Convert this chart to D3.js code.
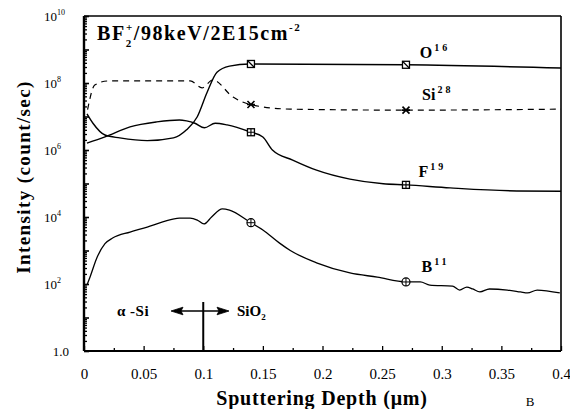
<!DOCTYPE html>
<html>
<head>
<meta charset="utf-8">
<script src="https://cdn.jsdelivr.net/npm/d3@7"></script>
<style>
  body { margin: 0; background: #fff; }
  svg text { font-family: "Liberation Serif", "Times New Roman", "DejaVu Serif", serif !important; fill: #000; }
  .bold { font-weight: bold; }
</style>
</head>
<body>
<div id="chart"></div>
<script>
// depth in um, intensity in counts/sec
var o16 = [
  [0.0025, 1.2e7], [0.0075, 6.3e6], [0.0176, 2.8e6], [0.030, 2.3e6], [0.053, 1.9e6],
  [0.075, 2.3e6], [0.086, 4.0e6], [0.095, 9.8e6], [0.103, 5.0e7], [0.1115, 2.1e8],
  [0.122, 3.2e8], [0.139, 3.7e8], [0.27, 3.5e8], [0.4, 2.8e8]
];
var si28 = [
  [0.003, 1.6e7], [0.009, 8.7e7], [0.02, 1.15e8], [0.06, 1.15e8], [0.089, 1.15e8],
  [0.099, 7.2e7], [0.108, 1.23e8], [0.125, 3.8e7], [0.139, 2.3e7], [0.173, 1.66e7],
  [0.27, 1.55e7], [0.4, 1.66e7]
];
var f19 = [
  [0.0025, 1.6e6], [0.0176, 2.45e6], [0.0386, 4.9e6], [0.061, 6.9e6], [0.080, 7.9e6],
  [0.086, 7.4e6], [0.093, 6.3e6], [0.101, 4.6e6], [0.110, 6.3e6], [0.12, 5.6e6],
  [0.139, 3.5e6], [0.150, 2.45e6], [0.158, 1.0e6], [0.175, 5.0e5], [0.195, 2.5e5],
  [0.223, 1.35e5], [0.251, 9.8e4], [0.27, 9.1e4], [0.307, 7.4e4], [0.363, 6.0e4],
  [0.4, 5.9e4]
];
var b11 = [
  [0.0025, 93], [0.005, 160], [0.011, 630], [0.0176, 1600], [0.024, 2350],
  [0.0386, 3550], [0.053, 5000], [0.066, 7100], [0.080, 9300], [0.089, 9300],
  [0.095, 8100], [0.1006, 6200], [0.107, 1.0e4], [0.116, 1.74e4], [0.122, 1.6e4],
  [0.139, 7100], [0.150, 4100], [0.164, 1660], [0.173, 1000], [0.195, 430],
  [0.223, 215], [0.246, 160], [0.27, 115], [0.282, 115], [0.29, 93], [0.309, 87],
  [0.315, 66], [0.321, 81], [0.326, 71], [0.332, 58], [0.34, 71], [0.355, 66],
  [0.366, 58], [0.372, 54], [0.38, 66], [0.399, 54]
];
var markerDepths = [0.14, 0.27];
var xMajorTicks = [0, 0.05, 0.1, 0.15, 0.2, 0.25, 0.3, 0.35, 0.4];
var xTickLabels = ["0", "0.05", "0.1", "0.15", "0.2", "0.25", "0.3", "0.35", "0.4"];
var yLabelDecades = [0, 2, 4, 6, 8, 10];
var interfaceDepth = 0.1;

var width = 570, height = 409;
var margin = { top: 16, right: 9, bottom: 58, left: 84 };

var svg = d3.select('#chart').append('svg')
  .attr('width', width)
  .attr('height', height);

var x = d3.scaleLinear().domain([0, 0.4]).range([margin.left, width - margin.right]);
var y = d3.scaleLog().domain([1, 1e10]).range([height - margin.bottom, margin.top]);

// interpolate along a series in log space to place the markers on the line
function valueAt(series, d) {
  for (var i = 1; i < series.length; i++) {
    if (series[i][0] >= d) {
      var a = series[i - 1], b = series[i];
      var t = (d - a[0]) / (b[0] - a[0]);
      return Math.pow(10, Math.log10(a[1]) + t * (Math.log10(b[1]) - Math.log10(a[1])));
    }
  }
  return series[series.length - 1][1];
}

var line = d3.line()
  .x(function (d) { return x(d[0]); })
  .y(function (d) { return y(d[1]); })
  .curve(d3.curveMonotoneX);

// frame
var x0 = x(0), x1 = x(0.4), yTop = y(1e10), yBot = y(1);
svg.append('line').attr('x1', x0).attr('x2', x1).attr('y1', yTop).attr('y2', yTop)
  .attr('stroke', '#000').attr('stroke-width', 1.3);
svg.append('line').attr('x1', x1).attr('x2', x1).attr('y1', yTop).attr('y2', yBot)
  .attr('stroke', '#000').attr('stroke-width', 1.6);

// bottom axis: minor and major ticks pointing in
svg.append('g')
  .attr('transform', 'translate(0,' + yBot + ')')
  .call(d3.axisBottom(x).tickValues(d3.range(0.025, 0.4, 0.05)).tickSize(-3).tickFormat(''))
  .call(function (g) { g.select('.domain').remove(); g.selectAll('line').attr('stroke-width', 1.3); });
var xAxis = svg.append('g')
  .attr('transform', 'translate(0,' + yBot + ')')
  .call(d3.axisBottom(x).tickValues(xMajorTicks).tickSize(-5).tickPadding(17)
    .tickFormat(function (d, i) { return xTickLabels[i]; }));
xAxis.select('.domain').attr('stroke-width', 2).attr('d', 'M' + x0 + ',0H' + x1);
xAxis.selectAll('text').attr('font-size', 15);
xAxis.selectAll('line').attr('stroke-width', 1.3);

// left axis: log minor ticks
var minor = [];
for (var e = 0; e < 10; e++) for (var m = 2; m <= 9; m++) minor.push(m * Math.pow(10, e));
svg.append('g')
  .attr('transform', 'translate(' + x0 + ',0)')
  .call(d3.axisLeft(y).tickValues(minor).tickSize(-3).tickFormat(''))
  .call(function (g) { g.select('.domain').remove(); g.selectAll('line').attr('stroke-width', 1.3); });
var yAxis = svg.append('g')
  .attr('transform', 'translate(' + x0 + ',0)')
  .call(d3.axisLeft(y).tickValues(d3.range(0, 11).map(function (k) { return Math.pow(10, k); }))
    .tickSize(-5).tickFormat(''));
yAxis.select('.domain').attr('stroke-width', 2.4).attr('d', 'M0,' + yTop + 'V' + yBot);
yAxis.selectAll('line').attr('stroke-width', 1.6);

// y tick labels
yLabelDecades.forEach(function (k) {
  var t = svg.append('text')
    .attr('y', y(Math.pow(10, k)) + 5)
    .attr('font-size', 13);
  if (k === 0) {
    t.attr('x', 69).attr('text-anchor', 'end').text('1.0');
  } else {
    t.attr('x', 44);
    t.append('tspan').text('10');
    t.append('tspan').attr('font-size', 8).attr('dy', -6).text(k);
  }
});

// curves
svg.append('path').datum(o16).attr('d', line)
  .attr('fill', 'none').attr('stroke', '#000').attr('stroke-width', 1.4);
svg.append('path').datum(f19).attr('d', line)
  .attr('fill', 'none').attr('stroke', '#000').attr('stroke-width', 1.4);
svg.append('path').datum(b11).attr('d', line)
  .attr('fill', 'none').attr('stroke', '#000').attr('stroke-width', 1.3);
svg.append('path').datum(si28).attr('d', line)
  .attr('fill', 'none').attr('stroke', '#000').attr('stroke-width', 1.2)
  .attr('stroke-dasharray', '6,5');

// markers
markerDepths.forEach(function (d) {
  var cx = x(d), s = 3.5, cy;
  cy = y(valueAt(o16, d));
  svg.append('rect').attr('x', cx - s).attr('y', cy - s).attr('width', 2 * s).attr('height', 2 * s)
    .attr('fill', '#fff').attr('stroke', '#000').attr('stroke-width', 1.3);
  svg.append('line').attr('x1', cx - s).attr('y1', cy - s).attr('x2', cx + s).attr('y2', cy + s)
    .attr('stroke', '#000').attr('stroke-width', 1.2);

  cy = y(valueAt(f19, d));
  svg.append('rect').attr('x', cx - s).attr('y', cy - s).attr('width', 2 * s).attr('height', 2 * s)
    .attr('fill', '#fff').attr('stroke', '#000').attr('stroke-width', 1.3);
  svg.append('path').attr('d', 'M' + (cx - s) + ',' + cy + 'H' + (cx + s) + 'M' + cx + ',' + (cy - s) + 'V' + (cy + s))
    .attr('stroke', '#000').attr('stroke-width', 1.1);

  cy = y(valueAt(b11, d));
  svg.append('circle').attr('cx', cx).attr('cy', cy).attr('r', 4)
    .attr('fill', '#fff').attr('stroke', '#000').attr('stroke-width', 1.2);
  svg.append('path').attr('d', 'M' + (cx - 4) + ',' + cy + 'H' + (cx + 4) + 'M' + cx + ',' + (cy - 4) + 'V' + (cy + 4))
    .attr('stroke', '#000').attr('stroke-width', 1);

  cy = y(valueAt(si28, d));
  svg.append('path')
    .attr('d', 'M' + (cx - 3.5) + ',' + (cy - 3.5) + 'L' + (cx + 3.5) + ',' + (cy + 3.5) +
      'M' + (cx + 3.5) + ',' + (cy - 3.5) + 'L' + (cx - 3.5) + ',' + (cy + 3.5) +
      'M' + (cx - 4) + ',' + cy + 'H' + (cx + 4))
    .attr('stroke', '#000').attr('stroke-width', 1.6);
});

// species labels
function species(txt, sup, px, py) {
  var t = svg.append('text').attr('class', 'bold').attr('x', px).attr('y', py).attr('font-size', 16);
  t.append('tspan').text(txt);
  t.append('tspan').attr('font-size', 10).attr('dy', -7).attr('letter-spacing', 3).attr('dx', 2).text(sup);
}
species('O', '16', x(0.2815), 58);
species('Si', '28', x(0.2835), 100);
species('F', '19', x(0.2805), 177);
species('B', '11', x(0.283), 272);

// title
var title = svg.append('text').attr('class', 'bold').attr('x', 97).attr('y', 40)
  .attr('font-size', 20).attr('letter-spacing', 1.6);
title.append('tspan').text('BF');
title.append('tspan').attr('font-size', 11).attr('dy', 7).text('2');
title.append('tspan').attr('font-size', 11).attr('dx', -7).attr('dy', -16).text('+');
title.append('tspan').attr('dy', 9).text('/98keV/2E15cm');
title.append('tspan').attr('font-size', 11).attr('dy', -9).text('-2');

// axis titles
svg.append('text').attr('class', 'bold')
  .attr('transform', 'translate(30,' + 177 + ') rotate(-90)')
  .attr('text-anchor', 'middle').attr('font-size', 19).attr('letter-spacing', 1.4)
  .text('Intensity (count/sec)');
svg.append('text').attr('class', 'bold')
  .attr('x', 322).attr('y', 405).attr('text-anchor', 'middle')
  .attr('font-size', 20).attr('letter-spacing', 0.8)
  .text('Sputtering Depth (\u03bcm)');
svg.append('text').attr('x', 530).attr('y', 406).attr('text-anchor', 'middle')
  .attr('font-size', 13).text('B');

// interface annotation
var xi = x(interfaceDepth), ya = 311;
svg.append('line').attr('x1', xi).attr('x2', xi).attr('y1', 302).attr('y2', yBot)
  .attr('stroke', '#000').attr('stroke-width', 2);
svg.append('line').attr('x1', 178).attr('x2', 222).attr('y1', ya).attr('y2', ya)
  .attr('stroke', '#000').attr('stroke-width', 1.5);
svg.append('path').attr('d', 'M171,' + ya + 'L183,' + (ya - 3.8) + 'L181,' + ya + 'L183,' + (ya + 3.8) + 'Z')
  .attr('fill', '#000').attr('stroke', '#000').attr('stroke-width', 0.8);
svg.append('path').attr('d', 'M229,' + ya + 'L217,' + (ya - 3.8) + 'L219,' + ya + 'L217,' + (ya + 3.8) + 'Z')
  .attr('fill', '#000').attr('stroke', '#000').attr('stroke-width', 0.8);
svg.append('text').attr('class', 'bold').attr('x', 117).attr('y', 316).attr('font-size', 15)
  .attr('letter-spacing', 0.5).text('\u03b1 -Si');
var sio = svg.append('text').attr('class', 'bold').attr('x', 237).attr('y', 316).attr('font-size', 15);
sio.append('tspan').text('SiO');
sio.append('tspan').attr('font-size', 9).attr('dy', 4).text('2');
</script>
</body>
</html>
